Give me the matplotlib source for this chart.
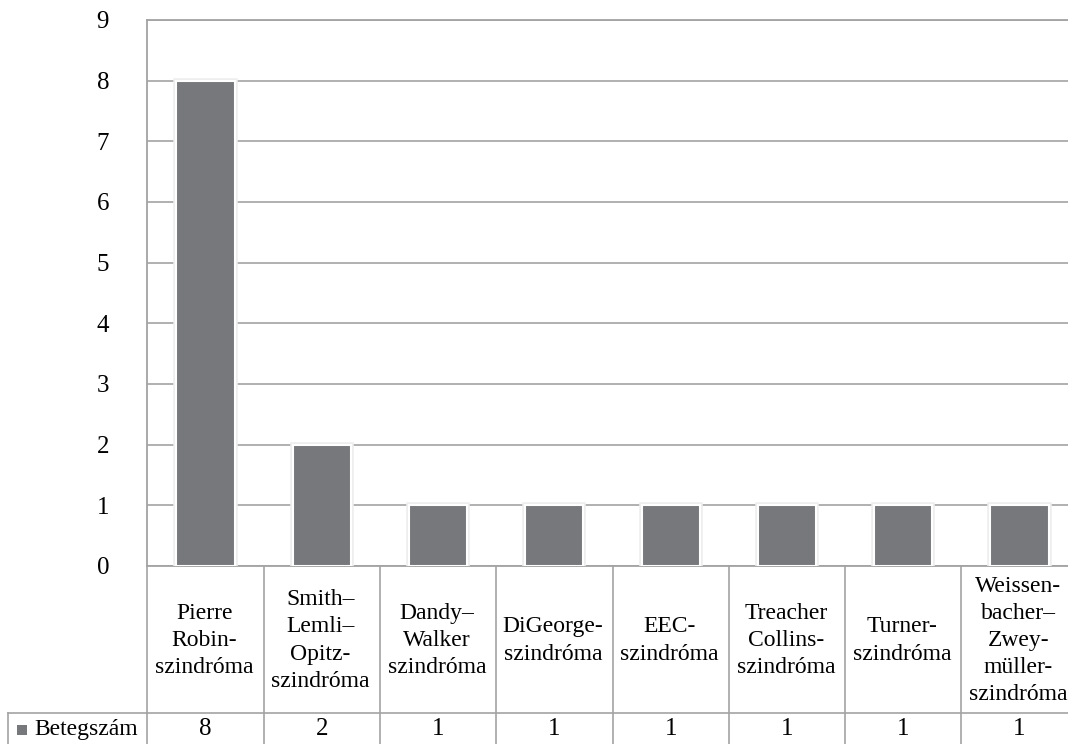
import matplotlib
matplotlib.use("Agg")
import matplotlib.pyplot as plt
import matplotlib.patheffects as pe
from matplotlib.patches import Rectangle

categories = [
    "Pierre\nRobin-\nszindróma",
    "Smith–\nLemli–\nOpitz-\nszindróma",
    "Dandy–\nWalker\nszindróma",
    "DiGeorge-\nszindróma",
    "EEC-\nszindróma",
    "Treacher\nCollins-\nszindróma",
    "Turner-\nszindróma",
    "Weissen-\nbacher–\nZwey-\nmüller-\nszindróma",
]
values = [8, 2, 1, 1, 1, 1, 1, 1]
series_name = "Betegszám"
yticks = list(range(0, 10))

W, H = 1068, 744
plt.rcParams["font.family"] = ["Liberation Serif", "DejaVu Serif"]
FS_TICK = 18
FS = 17
GRID = "#a3a3a3"
BAR = "#77787c"

fig = plt.figure(figsize=(W / 100, H / 100), dpi=100)
fig.patch.set_facecolor("white")

# plot area in pixels (right edge runs past the canvas)
left_px, right_px, top_px, base_px = 147.3, 1077.7, 20.0, 566.0
ax = fig.add_axes([left_px / W, (H - base_px) / H,
                   (right_px - left_px) / W, (base_px - top_px) / H])
ax_h = base_px - top_px
n = len(categories)
x = list(range(n))

ax.set_xlim(-0.5, n - 0.5)
ax.set_ylim(0, 9)
ax.set_yticks(yticks)
ax.set_yticklabels([str(t) for t in yticks], fontsize=FS_TICK)
ax.tick_params(axis="y", length=0, pad=27.5)
ax.set_xticks([])
ax.yaxis.grid(True, color=GRID, linewidth=1.2)
ax.set_axisbelow(True)
for s in ["left", "top", "bottom"]:
    ax.spines[s].set_color(GRID)
    ax.spines[s].set_linewidth(1.3)
ax.spines["right"].set_visible(False)

bars = ax.bar(x, values, width=0.5, color=BAR, edgecolor="white", linewidth=1.5, zorder=3)
for b in bars:
    b.set_path_effects([pe.Stroke(linewidth=4, foreground="#eeeeee"), pe.Normal()])

# data table below the plot area
tr = ax.get_xaxis_transform()

def yax(px):
    return -(px - base_px) / ax_h

row1_bot = 713.0
row2_bot = 746.0
legend_left_px = 8.0
line_kw = dict(color=GRID, linewidth=1.2, clip_on=False, transform=tr)

# column separators
for i in range(n + 1):
    ax.plot([i - 0.5, i - 0.5], [yax(base_px), yax(row2_bot)], **line_kw)
# horizontal rules of the table
ax.plot([-0.5, n - 0.5], [yax(row1_bot), yax(row1_bot)], **line_kw)
ax.plot([-0.5, n - 0.5], [yax(row2_bot), yax(row2_bot)], **line_kw)
# legend cell
fig.add_artist(plt.Line2D([legend_left_px / W, left_px / W],
                          [(H - row1_bot) / H, (H - row1_bot) / H], color=GRID, linewidth=1.2))
fig.add_artist(plt.Line2D([legend_left_px / W, legend_left_px / W],
                          [(H - row1_bot) / H, (H - row2_bot) / H], color=GRID, linewidth=1.2))
fig.add_artist(Rectangle((17 / W, (H - 735) / H), 10 / W, 10 / H,
                         transform=fig.transFigure, facecolor=BAR, edgecolor="none"))
fig.text(34 / W, (H - 729) / H, series_name, fontsize=FS, ha="left", va="center")

for i, (c, v) in enumerate(zip(categories, values)):
    ax.text(i - 0.01, yax((base_px + row1_bot) / 2 + 1), c, transform=tr, ha="center",
            va="center", fontsize=FS, linespacing=1.38, clip_on=False)
    ax.text(i, yax(729), str(v), transform=tr, ha="center", va="center",
            fontsize=FS_TICK, clip_on=False)

fig.savefig("out.png", dpi=100)
